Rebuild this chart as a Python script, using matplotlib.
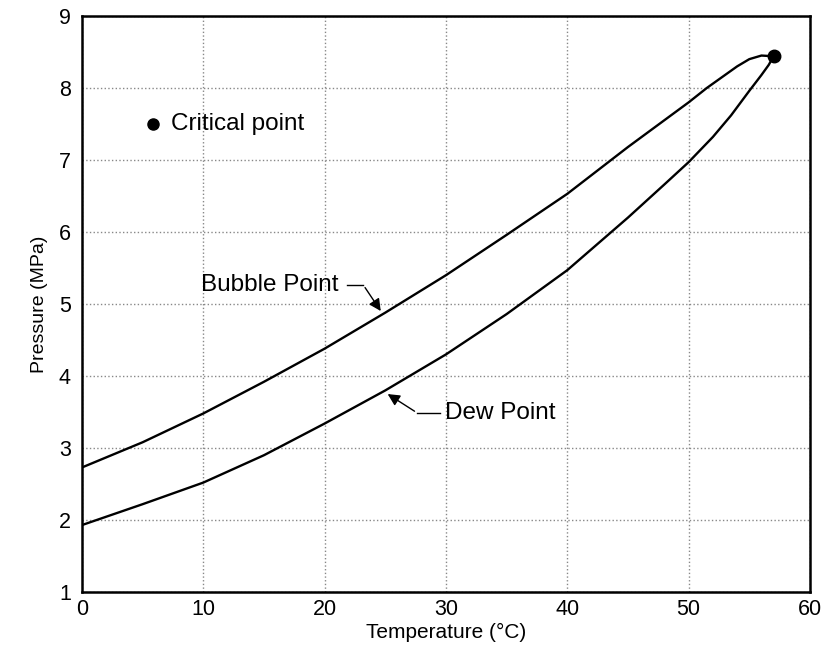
import numpy as np
import matplotlib.pyplot as plt

plt.rcParams['font.family'] = ['Liberation Sans', 'DejaVu Sans']

# Phase envelope
bubble_T = [0, 5, 10, 15, 20, 25, 30, 35, 40, 45, 50, 51.5, 53, 54, 55, 56, 57]
bubble_P = [2.73, 3.08, 3.48, 3.92, 4.38, 4.88, 5.40, 5.96, 6.53, 7.18, 7.80, 8.00, 8.18, 8.30, 8.40, 8.45, 8.44]

dew_T = [0, 5, 10, 15, 20, 25, 30, 35, 40, 45, 48, 50, 52, 53.5, 55, 56, 56.6, 57]
dew_P = [1.93, 2.22, 2.52, 2.90, 3.34, 3.80, 4.30, 4.86, 5.47, 6.20, 6.66, 6.97, 7.32, 7.62, 7.96, 8.18, 8.32, 8.44]

crit_T, crit_P = 57.0, 8.44

x_ticks = [0, 10, 20, 30, 40, 50, 60]
y_ticks = [1, 2, 3, 4, 5, 6, 7, 8, 9]

fig = plt.figure(figsize=(8.26, 6.48), dpi=100)
ax = fig.add_axes([0.0993, 0.0864, 0.8813, 0.889])

ax.plot(bubble_T, bubble_P, color='black', lw=1.7)
ax.plot(dew_T, dew_P, color='black', lw=1.7)
ax.plot(crit_T, crit_P, 'o', color='black', ms=9)

# legend-like label
ax.plot(5.85, 7.5, 'o', color='black', ms=8)
ax.text(7.3, 7.5, 'Critical point', fontsize=17.5, va='center', ha='left')

# Bubble point label with leader
ax.text(9.8, 5.26, 'Bubble Point', fontsize=17.5, va='center', ha='left')
ax.plot([21.85, 23.2], [5.26, 5.26], color='black', lw=1)
ax.annotate('', xy=(24.75, 4.87), xytext=(23.2, 5.26),
            arrowprops=dict(arrowstyle='-|>', color='black', lw=1, mutation_scale=18))

# Dew point label with leader
ax.text(29.9, 3.49, 'Dew Point', fontsize=17.5, va='center', ha='left')
ax.plot([27.6, 29.5], [3.49, 3.49], color='black', lw=1)
ax.annotate('', xy=(25.0, 3.77), xytext=(27.6, 3.49),
            arrowprops=dict(arrowstyle='-|>', color='black', lw=1, mutation_scale=18))

ax.set_xlim(0, 60)
ax.set_ylim(1, 9)
ax.set_xticks(x_ticks)
ax.set_yticks(y_ticks)
ax.tick_params(axis='y', length=0, labelsize=15.5, pad=8)
ax.tick_params(axis='x', length=0, labelsize=15.5, pad=5)
ax.grid(True, color='#888888', linestyle=':', lw=1)

for s in ax.spines.values():
    s.set_linewidth(1.8)

ax.set_xlabel('Temperature (°C)', fontsize=15, labelpad=2)
ax.set_ylabel('Pressure (MPa)', fontsize=14, labelpad=8)

fig.savefig('out.png', dpi=100)
